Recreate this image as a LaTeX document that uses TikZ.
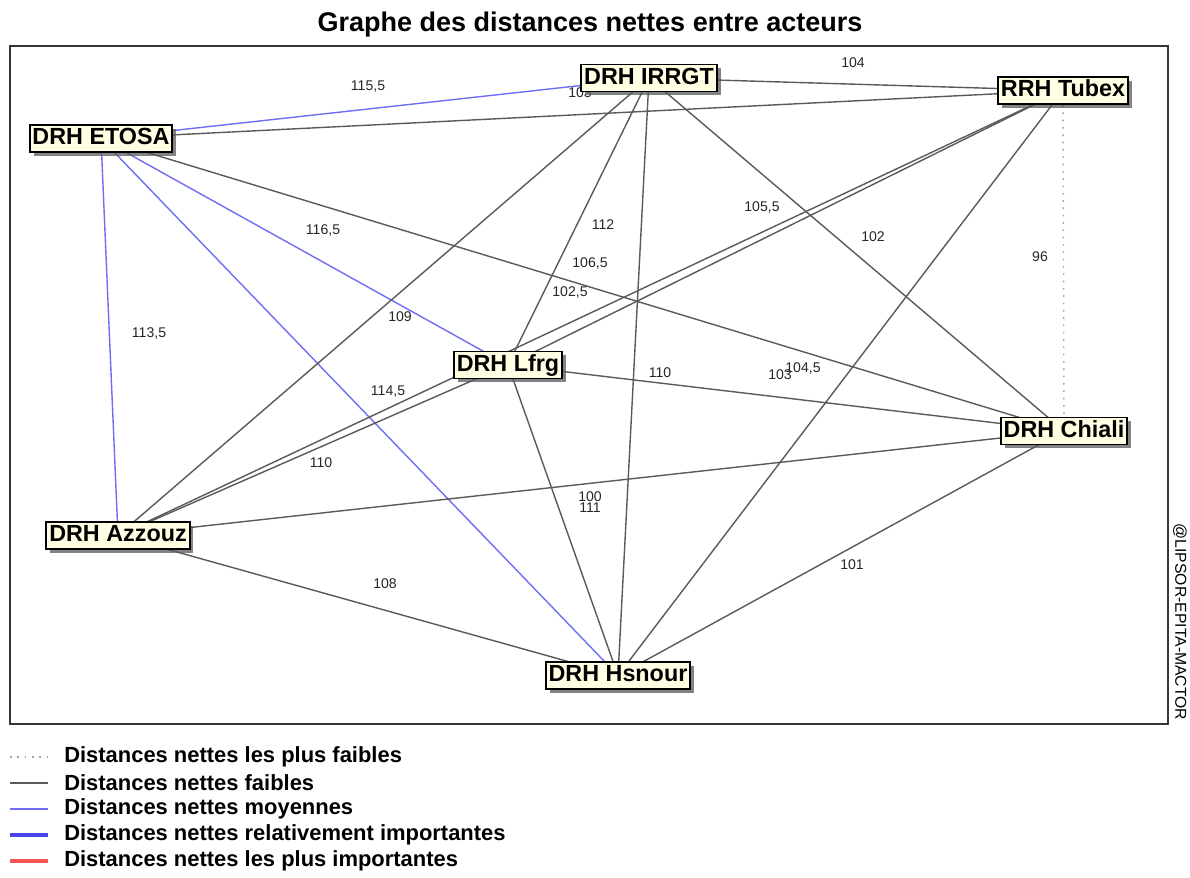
\documentclass[tikz,border=0pt]{standalone}
\usepackage{fontspec}
\setmainfont{Liberation Sans}
\usetikzlibrary{shadows}

\pgfdeclarelayer{edges}
\pgfsetlayers{edges,main}

\definecolor{edgegrey}{RGB}{90,90,90}
\definecolor{edgeblue}{RGB}{110,110,245}
\definecolor{strongblue}{RGB}{70,70,230}
\definecolor{legendred}{RGB}{250,85,85}
\definecolor{dotgrey}{RGB}{165,165,165}
\definecolor{boxfill}{RGB}{255,253,226}
\definecolor{framegrey}{RGB}{55,55,55}

\begin{document}
\begin{tikzpicture}[x=0.025cm,y=-0.025cm,
  actor/.style={draw=black, fill=boxfill, line width=1.4pt,
    font=\fontsize{16.6}{18}\selectfont\bfseries,
    inner xsep=2pt, inner ysep=2pt, text height=12.2pt, text depth=3pt,
    drop shadow={shadow xshift=2.8pt, shadow yshift=-2.8pt, fill=black!65, opacity=0.75}},
  faible/.style={draw=edgegrey, line width=1pt},
  moyenne/.style={draw=edgeblue, line width=1pt},
  relimp/.style={draw=strongblue, line width=2.2pt},
  plusimp/.style={draw=legendred, line width=2.2pt},
  minimal/.style={draw=dotgrey, line width=1pt, dash pattern=on 1.2pt off 4pt},
  val/.style={font=\fontsize{10}{11}\selectfont, text=black!85, inner sep=0pt},
  legtext/.style={font=\fontsize{15.6}{17}\selectfont\bfseries, anchor=west, inner sep=0pt},
  headline/.style={font=\fontsize{19.2}{22}\selectfont\bfseries, anchor=base, inner sep=0pt},
  frame/.style={draw=framegrey, line width=1.7pt}
]
\useasboundingbox (0,0) rectangle (1190,878);

% title and plotting frame
\node[headline] (title) at (590,32) {Graphe des distances nettes entre acteurs};
\draw[frame] (10,46) rectangle (1168,724);

% actors
\node[actor] (etosa)  at (101,138.5) {DRH ETOSA};
\node[actor] (irrgt)  at (649,78)    {DRH IRRGT};
\node[actor] (tubex)  at (1063,90.5) {RRH Tubex};
\node[actor] (lfrg)   at (508,365)   {DRH Lfrg};
\node[actor] (chiali) at (1064,431)  {DRH Chiali};
\node[actor] (azzouz) at (118,535.5) {DRH Azzouz};
\node[actor] (hsnour) at (618,675.5) {DRH Hsnour};

\begin{pgfonlayer}{edges}
  % medium net distances
  \draw[moyenne] (etosa.center) -- (irrgt.center);
  \draw[moyenne] (etosa.center) -- (lfrg.center);
  \draw[moyenne] (etosa.center) -- (azzouz.center);
  \draw[moyenne] (etosa.center) -- (hsnour.center);
  % weak net distances
  \draw[faible] (etosa.center)  -- (tubex.center);
  \draw[faible] (etosa.center)  -- (chiali.center);
  \draw[faible] (irrgt.center)  -- (tubex.center);
  \draw[faible] (irrgt.center)  -- (lfrg.center);
  \draw[faible] (irrgt.center)  -- (azzouz.center);
  \draw[faible] (irrgt.center)  -- (hsnour.center);
  \draw[faible] (irrgt.center)  -- (chiali.center);
  \draw[faible] (tubex.center)  -- (lfrg.center);
  \draw[faible] (tubex.center)  -- (azzouz.center);
  \draw[faible] (tubex.center)  -- (hsnour.center);
  \draw[faible] (lfrg.center)   -- (chiali.center);
  \draw[faible] (lfrg.center)   -- (azzouz.center);
  \draw[faible] (lfrg.center)   -- (hsnour.center);
  \draw[faible] (azzouz.center) -- (chiali.center);
  \draw[faible] (azzouz.center) -- (hsnour.center);
  \draw[faible] (chiali.center) -- (hsnour.center);
  % weakest net distance
  \draw[minimal] (tubex.center) -- (chiali.center);

  % distance values
  \node[val] (d01) at (368,87)  {115,5};
  \node[val] (d02) at (580,93)  {103};
  \node[val] (d03) at (853,63)  {104};
  \node[val] (d04) at (323,230) {116,5};
  \node[val] (d05) at (762,207) {105,5};
  \node[val] (d06) at (603,225) {112};
  \node[val] (d07) at (873,237) {102};
  \node[val] (d08) at (590,263) {106,5};
  \node[val] (d09) at (570,292) {102,5};
  \node[val] (d10) at (1040,257) {96};
  \node[val] (d11) at (149,333) {113,5};
  \node[val] (d12) at (400,317) {109};
  \node[val] (d13) at (388,392) {114,5};
  \node[val] (d14) at (660,373) {110};
  \node[val] (d15) at (780,375) {103};
  \node[val] (d16) at (803,368) {104,5};
  \node[val] (d17) at (321,463) {110};
  \node[val] (d18) at (590,497) {100};
  \node[val] (d19) at (590,508) {111};
  \node[val] (d20) at (385,584) {108};
  \node[val] (d21) at (852,565) {101};
\end{pgfonlayer}

% credit line along the right edge
\node[font=\fontsize{11.2}{12}\selectfont, rotate=-90, inner sep=0pt] (credit) at (1180,622) {@LIPSOR-EPITA-MACTOR};

% legend
\coordinate (k1a) at (10,757); \coordinate (k1b) at (48,757);
\coordinate (k2a) at (10,783); \coordinate (k2b) at (48,783);
\coordinate (k3a) at (10,809); \coordinate (k3b) at (48,809);
\coordinate (k4a) at (10,835); \coordinate (k4b) at (48,835);
\coordinate (k5a) at (10,861); \coordinate (k5b) at (48,861);
\draw[minimal] (k1a) -- (k1b);
\draw[faible]  (k2a) -- (k2b);
\draw[moyenne] (k3a) -- (k3b);
\draw[relimp]  (k4a) -- (k4b);
\draw[plusimp] (k5a) -- (k5b);
\node[legtext] (t1) at (64,757) {Distances nettes les plus faibles};
\node[legtext] (t2) at (64,783) {Distances nettes faibles};
\node[legtext] (t3) at (64,809) {Distances nettes moyennes};
\node[legtext] (t4) at (64,835) {Distances nettes relativement importantes};
\node[legtext] (t5) at (64,861) {Distances nettes les plus importantes};
\end{tikzpicture}
\end{document}
